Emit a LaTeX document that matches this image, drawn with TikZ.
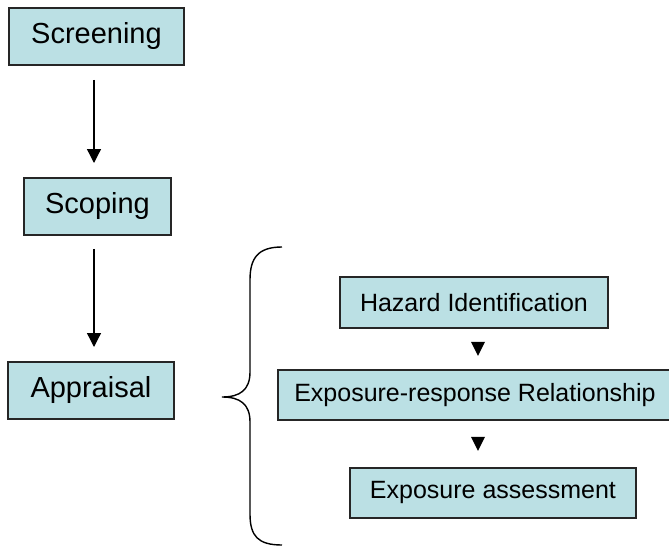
\documentclass[tikz,border=0pt]{standalone}
\usepackage{fontspec}
\setmainfont{Liberation Sans}
\usetikzlibrary{calc,arrows.meta}
\definecolor{boxfill}{RGB}{187,224,228}
\tikzset{
  stage/.style={draw=black!85, line width=1.9pt, fill=boxfill, inner sep=0pt,
    font=\fontsize{29}{33}\selectfont, anchor=north west},
  substage/.style={draw=black!85, line width=1.9pt, fill=boxfill, inner sep=0pt,
    font=\fontsize{25}{29}\selectfont, anchor=north west},
  flow/.style={line width=1.3pt, -{Triangle[length=14pt,width=14pt]}},
  marker/.style={fill=black, draw=none},
  brace/.style={line width=1.4pt}
}
\begin{document}
\begin{tikzpicture}[x=1pt,y=-1pt]
\useasboundingbox (0,0) rectangle (669,546);

% main stages
\node[stage, minimum width=175pt, minimum height=57pt] (screen) at (8,7) {Screening};
\node[stage, minimum width=147pt, minimum height=57pt] (scope) at (23,177) {Scoping};
\node[stage, minimum width=166pt, minimum height=57pt] (apprais) at (7,361) {Appraisal};

\draw[flow, shorten <=14pt, shorten >=14pt] (screen.south -| 94,0) -- (scope.north -| 94,0);
\draw[flow, shorten <=13pt, shorten >=14pt] (scope.south -| 94,0) -- (apprais.north -| 94,0);

% appraisal sub-steps
\node[substage, minimum width=268pt, minimum height=51pt] (haz) at (339,276) {Hazard Identification};
\node[substage, minimum width=394pt, minimum height=50pt] (erel) at (277,369) {Exposure-response Relationship};
\node[substage, minimum width=286pt, minimum height=50pt] (expo) at (349,467) {Exposure assessment};

% small downward markers between sub-steps
\coordinate (m1) at ($(haz.south)!0.5!(erel.north)$);
\coordinate (m2) at ($(erel.south)!0.5!(expo.north)$);
\fill[marker] ($(m1 -| 478,0)+(-7,-7)$) -- ++(14,0) -- ++(-7,14) -- cycle;
\fill[marker] ($(m2 -| 478,0)+(-7,-7)$) -- ++(14,0) -- ++(-7,14) -- cycle;

% brace grouping the sub-steps
\coordinate (btop) at (282,247);
\coordinate (btip) at (222,397);
\coordinate (bbot) at (282,545);
\draw[brace] (btop) .. controls (258,247) and (250,258) .. (250,280)
  -- (250,372) .. controls (250,390) and (240,397) .. (btip)
  .. controls (240,397) and (250,404) .. (250,422)
  -- (250,514) .. controls (250,536) and (258,545) .. (bbot);
\end{tikzpicture}
\end{document}
